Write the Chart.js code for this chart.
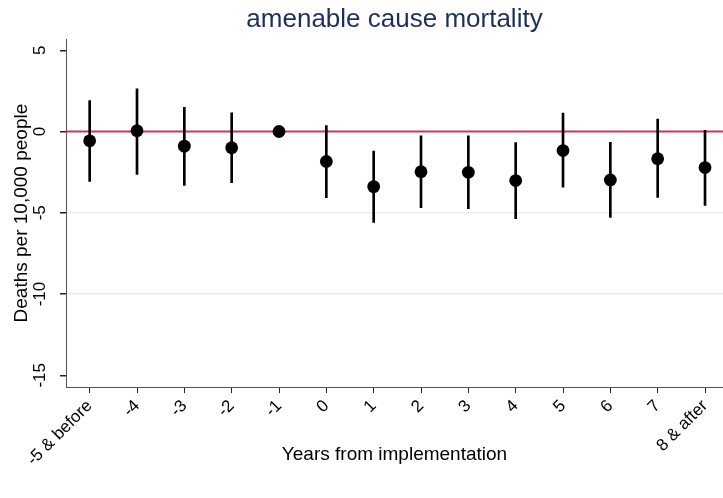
<!DOCTYPE html>
<html>
<head>
<meta charset="utf-8">
<script src="https://cdn.jsdelivr.net/npm/chart.js@4.4.1/dist/chart.umd.min.js"></script>
<style>
  body { margin: 0; background: #fff; }
</style>
</head>
<body>
<canvas id="myChart" width="723" height="498"></canvas>
<script>
// event-study estimates
var xPos = [-5, -4, -3, -2, -1, 0, 1, 2, 3, 4, 5, 6, 7, 8];
var xLabels = ["-5 & before", "-4", "-3", "-2", "-1", "0", "1", "2", "3", "4", "5", "6", "7", "8 & after"];
var estimate = [-0.57, 0.05, -0.9, -1.0, 0, -1.84, -3.39, -2.47, -2.51, -3.02, -1.17, -2.98, -1.67, -2.22];
var ciLow = [-3.07, -2.64, -3.31, -3.15, 0, -4.07, -5.6, -4.69, -4.75, -5.37, -3.43, -5.29, -4.05, -4.54];
var ciHigh = [1.9, 2.62, 1.49, 1.15, 0, 0.37, -1.2, -0.27, -0.27, -0.68, 1.13, -0.66, 0.76, 0.08];
var yTicks = [5, 0, -5, -10, -15];
var yGrid = [-5, -10];

var xMin = -5.5, xMax = 8.38;
var yMin = -15.72, yMax = 5.68;

var fontFam = "Arial, 'Liberation Sans', sans-serif";

var points = [], bars = [];
for (var i = 0; i < xPos.length; i++) {
    points.push({x: xPos[i], y: estimate[i]});
    if (ciLow[i] !== ciHigh[i]) {
        bars.push({x: xPos[i], y: [ciLow[i], ciHigh[i]]});
    }
}

const ctx = document.getElementById('myChart').getContext('2d');
const myChart = new Chart(ctx, {
    type: 'scatter',
    data: {
        datasets: [{
                type: 'scatter',
                label: 'estimate',
                data: points,
                backgroundColor: '#000',
                borderWidth: 0,
                pointRadius: 6.4,
                pointHoverRadius: 6.4
            }, {
                type: 'bar',
                label: 'ci',
                data: bars,
                backgroundColor: '#000',
                borderWidth: 0,
                barThickness: 2,
                grouped: false
            }, {
                type: 'line',
                label: 'zero',
                data: [{x: xMin, y: 0}, {x: xMax, y: 0}],
                borderColor: '#c8375e',
                borderWidth: 2,
                pointRadius: 0
            }]
    },
    options: {
        responsive: false,
        animation: false,
        devicePixelRatio: 1,
        layout: {padding: 0, autoPadding: false},
        plugins: {
            legend: {display: false},
            tooltip: {enabled: false},
            title: {
                display: true,
                fullSize: false,
                text: 'amenable cause mortality',
                color: '#1d2f5c',
                font: {family: fontFam, size: 26, weight: 'normal'},
                padding: {top: 4, bottom: 4}
            }
        },
        scales: {
            x: {
                type: 'linear',
                min: xMin,
                max: xMax,
                offset: false,
                afterBuildTicks: function (scale) {
                    scale.ticks = xPos.map(function (v) { return {value: v}; });
                },
                afterFit: function (scale) {
                    scale.height = 111;
                    scale.paddingLeft = 0;
                    scale.paddingRight = 0;
                },
                ticks: {
                    minRotation: 45,
                    maxRotation: 45,
                    padding: 3,
                    color: '#000',
                    font: {family: fontFam, size: 17},
                    callback: function (value) {
                        var k = xPos.indexOf(value);
                        return k >= 0 ? xLabels[k] : '';
                    }
                },
                grid: {
                    offset: false,
                    drawOnChartArea: false,
                    tickLength: 6,
                    tickColor: '#222'
                },
                border: {color: '#555', width: 1},
                title: {
                    display: true,
                    text: 'Years from implementation',
                    color: '#000',
                    font: {family: fontFam, size: 19},
                    padding: {top: 0, bottom: 32}
                }
            },
            y: {
                min: yMin,
                max: yMax,
                afterBuildTicks: function (scale) {
                    scale.ticks = yTicks.map(function (v) { return {value: v}; });
                },
                afterFit: function (scale) {
                    scale.width = 66;
                    scale.paddingTop = 0;
                    scale.paddingBottom = 0;
                },
                ticks: {
                    minRotation: 90,
                    maxRotation: 90,
                    crossAlign: 'center',
                    padding: 7,
                    color: '#000',
                    font: {family: fontFam, size: 17}
                },
                grid: {
                    color: function (c) {
                        return (c.tick && yGrid.indexOf(c.tick.value) >= 0) ? '#e8eff1' : 'rgba(0,0,0,0)';
                    },
                    lineWidth: 1.5,
                    tickLength: 6,
                    tickColor: '#222'
                },
                border: {color: '#555', width: 1},
                title: {
                    display: true,
                    text: 'Deaths per 10,000 people',
                    color: '#000',
                    font: {family: fontFam, size: 19},
                    padding: {top: 10, bottom: 0}
                }
            }
        }
    }
});
</script>
</body>
</html>
